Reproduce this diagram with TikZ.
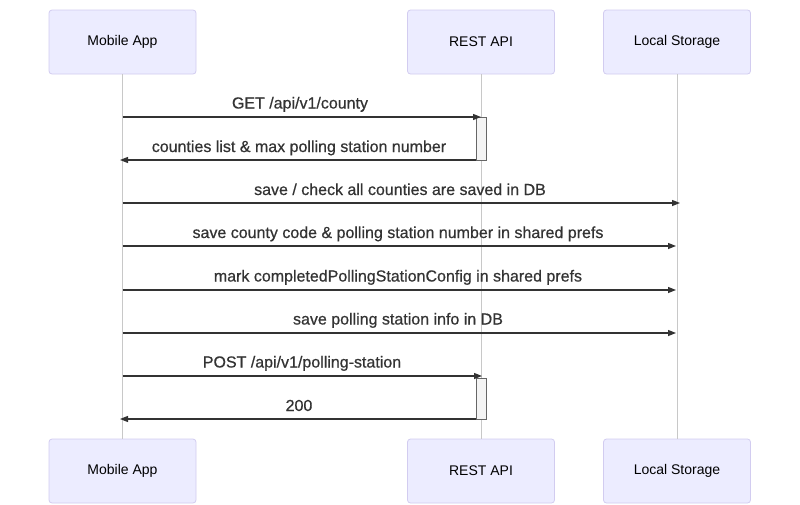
\documentclass[tikz,border=0pt]{standalone}
\usepackage{fontspec}
\setmainfont{Liberation Sans}
\newfontfamily\msgfont[FakeBold=0.6]{Liberation Sans}
\usetikzlibrary{arrows.meta}
\definecolor{actfill}{HTML}{ECECFF}
\definecolor{actborder}{HTML}{D2CCF0}
\definecolor{lifeline}{HTML}{C8C8C8}
\definecolor{msg}{HTML}{333333}
\definecolor{actvfill}{HTML}{F4F4F4}
\definecolor{actvborder}{HTML}{666666}
\tikzset{
  actor/.style={draw=actborder, fill=actfill, line width=0.8pt, rounded corners=3pt,
    minimum width=147pt, minimum height=64pt, inner sep=0pt,
    font=\fontsize{14}{16}\selectfont, text=black},
  lline/.style={draw=lifeline, line width=0.8pt},
  msgline/.style={draw=msg, line width=1.3pt, -{Triangle[length=8pt,width=6pt]}},
  msglabel/.style={anchor=base, inner sep=0pt, text=msg, font=\msgfont\fontsize{16}{19}\selectfont},
  activ/.style={draw=actvborder, fill=actvfill, line width=0.6pt}
}
\begin{document}
\begin{tikzpicture}[x=1pt,y=-1pt]
\useasboundingbox (0,0) rectangle (800,504);
% actors
\node[actor] (A) at (122.5,42) {Mobile App};
\node[actor] (B) at (481,42) {REST API};
\node[actor] (C) at (677,42) {Local Storage};
\node[actor] (Ab) at (122.5,471) {Mobile App};
\node[actor] (Bb) at (481,471) {REST API};
\node[actor] (Cb) at (677,471) {Local Storage};
% lifelines
\draw[lline] (A.south) -- (Ab.north);
\draw[lline] (B.south) -- (Bb.north);
\draw[lline] (C.south) -- (Cb.north);
% activations
\filldraw[activ] (476,117) rectangle (486,160);
\filldraw[activ] (476,378) rectangle (486,419);
% message endpoints
\coordinate (m1s) at (122.5,117); \coordinate (m1e) at (481,117);
\coordinate (m2s) at (476,160);   \coordinate (m2e) at (120,160);
\coordinate (m3s) at (122.5,203); \coordinate (m3e) at (680,203);
\coordinate (m4s) at (122.5,246); \coordinate (m4e) at (676,246);
\coordinate (m5s) at (122.5,290); \coordinate (m5e) at (676,290);
\coordinate (m6s) at (122.5,333); \coordinate (m6e) at (676,333);
\coordinate (m7s) at (122.5,376); \coordinate (m7e) at (482,376);
\coordinate (m8s) at (476,419);   \coordinate (m8e) at (120,419);
% messages
\draw[msgline] (m1s) -- (m1e);
\node[msglabel] (l1) at (300,108.5) {GET /api/v1/county};
\draw[msgline] (m2s) -- (m2e);
\node[msglabel] (l2) at (299,152) {counties list \& max polling station number};
\draw[msgline] (m3s) -- (m3e);
\node[msglabel] (l3) at (400,195) {save / check all counties are saved in DB};
\draw[msgline] (m4s) -- (m4e);
\node[msglabel] (l4) at (398,238) {save county code \& polling station number in shared prefs};
\draw[msgline] (m5s) -- (m5e);
\node[msglabel] (l5) at (398,281.5) {mark completedPollingStationConfig in shared prefs};
\draw[msgline] (m6s) -- (m6e);
\node[msglabel] (l6) at (398,324.5) {save polling station info in DB};
\draw[msgline] (m7s) -- (m7e);
\node[msglabel] (l7) at (302,367.5) {POST /api/v1/polling-station};
\draw[msgline] (m8s) -- (m8e);
\node[msglabel] (l8) at (299,411) {200};
\end{tikzpicture}
\end{document}
